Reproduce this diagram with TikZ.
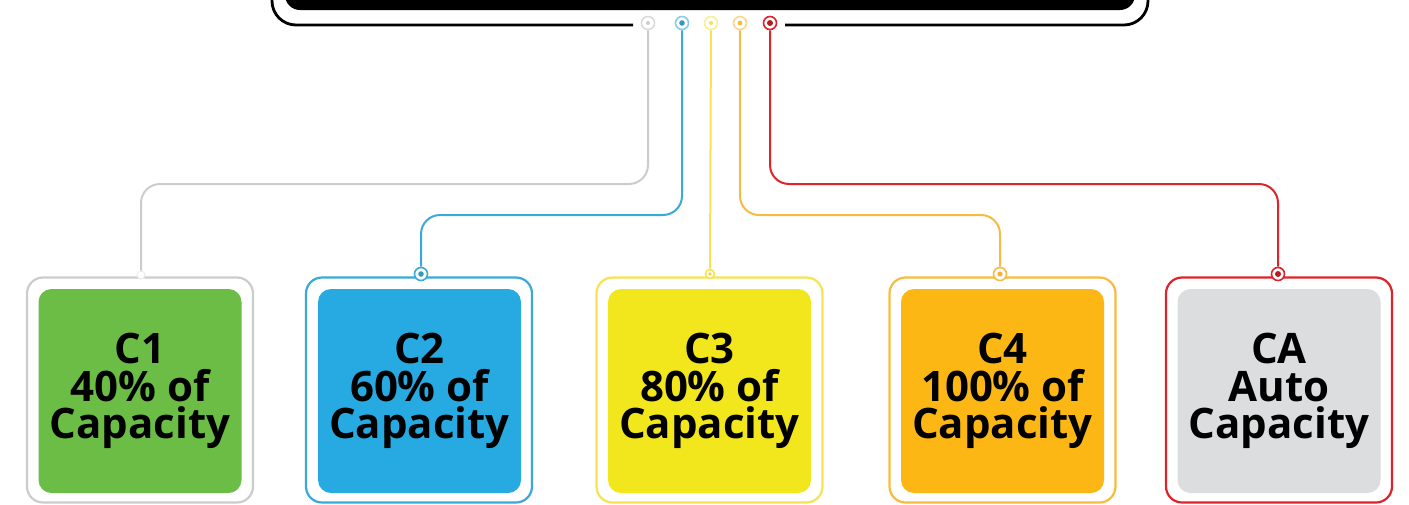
\documentclass[tikz,border=0pt]{standalone}
\usepackage{fontspec}
\setmainfont{Open Sans}
\definecolor{cgreen}{HTML}{6CBD45}
\definecolor{cblue}{HTML}{27AAE1}
\definecolor{cyellow}{HTML}{F2E61D}
\definecolor{corange}{HTML}{FDB714}
\definecolor{cgrey}{HTML}{DCDDDE}
\definecolor{lgrey}{HTML}{CCCCCC}
\definecolor{lblue}{HTML}{3AA9DA}
\definecolor{lyellow}{HTML}{F7E352}
\definecolor{lorange}{HTML}{F8BB40}
\definecolor{lred}{HTML}{E0232B}
\tikzset{
  outerbox/.style={draw=#1, line width=2.2pt, rounded corners=16pt, fill=white,
    minimum width=226pt, minimum height=225pt, inner sep=0pt},
  innerbox/.style={fill=#1, rounded corners=13pt, minimum width=203pt,
    minimum height=204pt, inner sep=0pt, align=center,
    font=\fontsize{42}{37.5}\selectfont\bfseries, text=black},
  ring/.style={circle, draw=#1, line width=1.6pt, fill=white, minimum size=13pt, inner sep=0pt},
  conn/.style={draw=#1, line width=2pt, rounded corners=19pt},
}
\begin{document}
\begin{tikzpicture}[x=1pt,y=-1pt]
\useasboundingbox (0,0) rectangle (1409,504);
% top bar
\fill[black, rounded corners=15pt] (285,-30) rectangle (1135,10);
\draw[black, line width=2.8pt, rounded corners=24pt] (272,-20) -- (272,25) -- (633,25);
\draw[black, line width=2.8pt, rounded corners=24pt] (785,25) -- (1148,25) -- (1148,-20);
% rows for connectors
\coordinate (r1) at (0,184);
\coordinate (r2) at (0,215);
% boxes
\node[outerbox=lgrey] (o1) at (140,390) {};
\node[innerbox=cgreen] (c1) at (140,391) {C1\\40\% of\\Capacity};
\node[outerbox=lblue] (o2) at (419,390) {};
\node[innerbox=cblue] (c2) at (419.5,391) {C2\\60\% of\\Capacity};
\node[outerbox=lyellow] (o3) at (709.5,390) {};
\node[innerbox=cyellow] (c3) at (709.5,391) {C3\\80\% of\\Capacity};
\node[outerbox=lorange] (o4) at (1002.5,390) {};
\node[innerbox=corange] (c4) at (1002.5,391) {C4\\100\% of\\Capacity};
\node[outerbox=lred] (o5) at (1279,390) {};
\node[innerbox=cgrey] (c5) at (1279,391) {CA\\Auto\\Capacity};
% top rings
\node[ring=lgrey!70] (t1) at (648,23) {};
\node[ring=lblue!60] (t2) at (682,23) {};
\node[ring=lyellow!60] (t3) at (711,23) {};
\node[ring=lorange!60] (t4) at (740,23) {};
\node[ring=lred] (t5) at (770,23) {};
\fill[lgrey] (t1) circle (2pt);
\fill[lblue!90!black] (t2) circle (2.8pt);
\fill[lyellow] (t3) circle (2pt);
\fill[lorange] (t4) circle (2.4pt);
\fill[lred!80!black] (t5) circle (3pt);
% box rings
\node[ring=lgrey!40, minimum size=8pt, line width=1pt] (b1) at (141,275) {};
\node[ring=lblue] (b2) at (421,274) {};
\node[ring=lyellow, minimum size=9pt] (b3) at (710,274) {};
\node[ring=lorange] (b4) at (1000,274) {};
\node[ring=lred] (b5) at (1278,274) {};
\fill[lblue!90!black] (b2) circle (2.8pt);
\fill[lyellow!80!orange] (b3) circle (1.8pt);
\fill[lorange!80!orange] (b4) circle (2.6pt);
\fill[lred!80!black] (b5) circle (3pt);
% connectors
\draw[conn=lgrey] (t1) -- (t1 |- r1) -- (b1 |- r1) -- (b1);
\draw[conn=lblue] (t2) -- (t2 |- r2) -- (b2 |- r2) -- (b2);
\draw[conn=lyellow] (t3) -- (b3);
\draw[conn=lorange] (t4) -- (t4 |- r2) -- (b4 |- r2) -- (b4);
\draw[conn=lred] (t5) -- (t5 |- r1) -- (b5 |- r1) -- (b5);
\end{tikzpicture}
\end{document}
